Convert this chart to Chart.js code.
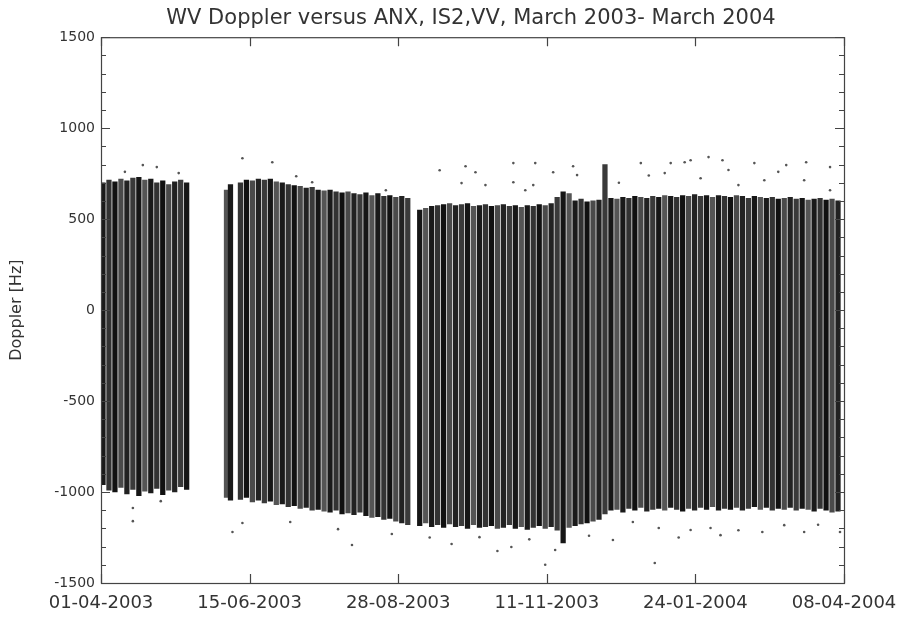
<!DOCTYPE html>
<html><head><meta charset="utf-8">
<script src="https://cdn.jsdelivr.net/npm/chart.js@4/dist/chart.umd.min.js"></script>
<style>html,body{margin:0;padding:0;background:#fff}#wrap{width:902px;height:619px}</style>
</head><body><div id="wrap"><canvas id="c" width="902" height="619"></canvas></div>
<script>
// Days since 01-04-2003 for each orbit bar
const days = [1,4,7,10,13,16,19,22,25,28,31,34,37,40,43,
  63,65,
  70,73,76,79,82,85,88,91,94,97,100,103,106,109,112,115,118,121,124,127,130,133,136,139,142,145,148,151,154,
  160,163,166,169,172,175,178,181,184,187,190,193,196,199,202,205,208,211,214,217,220,223,226,229,232,235,238,241,244,247,250,
  253,256,259,262,265,268,271,274,277,280,283,286,289,292,295,298,301,304,307,310,313,316,319,322,325,328,331,334,337,340,343,346,349,352,355,358,361,364,367,370];
const maxVals = [700,715,705,720,710,725,730,715,720,700,710,690,705,715,700,
  660,690,
  700,715,710,720,715,720,705,700,690,685,680,670,675,660,655,660,650,645,650,640,635,645,630,640,625,630,620,625,615,
  550,560,570,575,580,585,575,580,585,570,575,580,570,575,580,570,575,565,575,570,580,575,585,620,650,640,600,610,595,600,605,
  800,615,610,620,615,625,620,615,625,620,630,625,620,630,625,635,625,630,620,630,625,620,630,625,615,625,620,615,620,610,615,620,610,615,605,610,615,605,610,600];
const minVals = [-960,-990,-1000,-975,-1010,-985,-1020,-995,-1005,-980,-1015,-990,-1000,-970,-985,
  -1030,-1045,
  -1040,-1030,-1055,-1045,-1060,-1050,-1070,-1065,-1080,-1075,-1090,-1085,-1100,-1095,-1105,-1110,-1100,-1120,-1115,-1125,-1110,-1130,-1140,-1135,-1150,-1145,-1160,-1170,-1180,
  -1185,-1170,-1190,-1180,-1195,-1175,-1190,-1185,-1200,-1180,-1195,-1190,-1185,-1200,-1195,-1180,-1200,-1190,-1205,-1195,-1185,-1200,-1190,-1210,-1280,-1195,-1185,-1175,-1170,-1160,-1150,
  -1120,-1100,-1095,-1110,-1090,-1100,-1085,-1105,-1095,-1090,-1100,-1085,-1095,-1105,-1090,-1100,-1085,-1095,-1080,-1100,-1090,-1095,-1085,-1100,-1090,-1080,-1095,-1085,-1100,-1090,-1095,-1085,-1100,-1090,-1095,-1105,-1090,-1100,-1110,-1105];
// Isolated outlier samples
const outDays = [21,28,39,12,86,98,106,71,143,170,183,188,181,207,207,218,227,237,239,193,213,217,271,286,293,296,305,312,328,344,354,366,283,301,320,333,353,366,260,275,340,315,
  16,16,71,66,95,119,146,176,199,206,228,190,257,267,280,296,306,311,332,343,353,371,126,278,223,30,245,320,360,290,215,165];
const outVals = [797,786,753,760,813,736,703,835,659,769,791,758,698,808,703,808,758,791,742,687,659,687,808,808,813,824,841,824,808,797,813,786,753,725,687,714,714,659,700,740,760,770,
  -1088,-1160,-1170,-1220,-1165,-1204,-1231,-1286,-1324,-1302,-1319,-1248,-1264,-1165,-1198,-1209,-1198,-1237,-1220,-1182,-1220,-1220,-1291,-1390,-1400,-1050,-1240,-1210,-1180,-1250,-1260,-1250];
// Axis ticks
const xTickDays = [0,74.6,149.2,223.8,298.4,373];
const xTickLabels = ['01-04-2003','15-06-2003','28-08-2003','11-11-2003','24-01-2004','08-04-2004'];
const titleText = 'WV Doppler versus ANX, IS2,VV, March 2003- March 2004';
const yTitle = 'Doppler [Hz]';

const shades = ['#1a1a1a','#333333','#111111','#4a4a4a','#222222','#3a3a3a','#161616','#555555'];
const FONT = "'DejaVu Sans', 'Liberation Sans', sans-serif";

const boxTicks = {
  id: 'boxTicks',
  afterDraw(chart) {
    const {ctx, chartArea: a, scales: {x, y}} = chart;
    ctx.save();
    ctx.strokeStyle = '#444';
    ctx.lineWidth = 1.2;
    ctx.strokeRect(a.left + 0.5, a.top + 0.5, a.right - a.left, a.bottom - a.top);
    ctx.beginPath();
    for (let v = -1500; v <= 1500; v += 100) {
      const py = Math.round(y.getPixelForValue(v)) + 0.5;
      const len = (v % 500 === 0) ? 9 : 5;
      ctx.moveTo(a.left, py); ctx.lineTo(a.left + len, py);
      ctx.moveTo(a.right, py); ctx.lineTo(a.right - len, py);
    }
    xTickDays.forEach(d => {
      const px = Math.round(x.getPixelForValue(d)) + 0.5;
      ctx.moveTo(px, a.bottom); ctx.lineTo(px, a.bottom - 9);
      ctx.moveTo(px, a.top); ctx.lineTo(px, a.top + 9);
    });
    ctx.stroke();
    ctx.restore();
  }
};

new Chart(document.getElementById('c'), {
  type: 'bar',
  data: {
    datasets: [
      {
        type: 'scatter',
        data: outDays.map((d, i) => ({x: d, y: outVals[i]})),
        pointRadius: 1.3,
        pointBackgroundColor: '#555',
        pointBorderWidth: 0,
        order: 1
      },
      {
        type: 'bar',
        data: days.map((d, i) => ({x: d, y: [minVals[i], maxVals[i]]})),
        backgroundColor: days.map((d, i) => shades[i % shades.length]),
        barThickness: 4.6,
        grouped: false,
        borderWidth: 0,
        order: 2
      }
    ]
  },
  plugins: [boxTicks],
  options: {
    responsive: false,
    animation: false,
    devicePixelRatio: 1,
    layout: {padding: {left: 40, right: 0, top: 0, bottom: 0}},
    plugins: {
      legend: {display: false},
      tooltip: {enabled: false},
      title: {
        display: true, text: titleText, color: '#333',
        font: {family: FONT, size: 21, weight: 'normal', lineHeight: 1.2},
        padding: {top: 6, bottom: 6}
      }
    },
    scales: {
      x: {
        type: 'linear', min: 0, max: 373, offset: false,
        grid: {display: false, drawTicks: false},
        border: {display: false},
        afterFit: s => { s.height = 36; s.paddingLeft = 0; s.paddingRight = 0; },
        afterBuildTicks: s => { s.ticks = xTickDays.map(v => ({value: v})); },
        ticks: {
          autoSkip: false, maxRotation: 0, padding: 10, color: '#333',
          font: {family: FONT, size: 18},
          callback: (v, i) => xTickLabels[i]
        }
      },
      y: {
        position: 'left',
        min: -1500, max: 1500,
        grid: {display: false, drawTicks: false},
        border: {display: false},
        afterFit: s => { s.width = 61; },
        ticks: {stepSize: 500, padding: 6, color: '#333', font: {family: FONT, size: 14},
          callback: v => String(v)},
        title: {display: true, text: yTitle, color: '#333', font: {family: FONT, size: 16}, padding: {top: -33, bottom: 0}}
      },
      yRight: {
        position: 'right',
        min: -1500, max: 1500,
        grid: {display: false, drawTicks: false},
        border: {display: false},
        ticks: {display: false},
        afterFit: s => { s.width = 58; }
      }
    }
  }
});
</script></body></html>
